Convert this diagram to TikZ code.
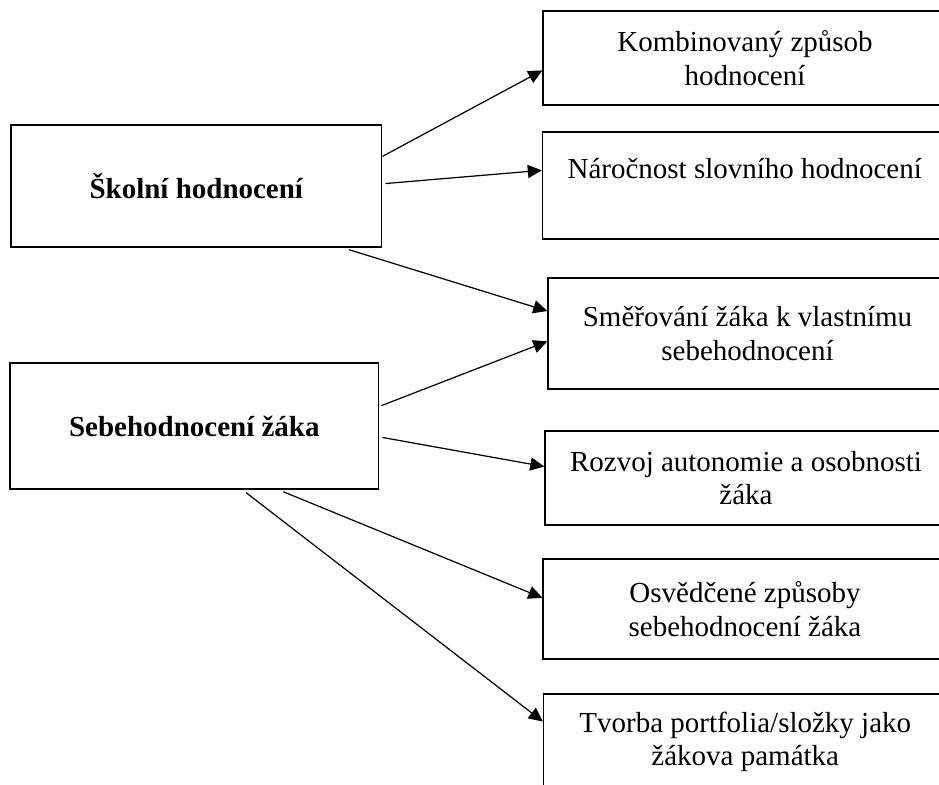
\documentclass[tikz,border=0pt]{standalone}
\usepackage{fontspec}
\setmainfont{Liberation Serif}
\usetikzlibrary{arrows.meta,calc}

\tikzset{
  mainbox/.style={draw, line width=0.8pt, inner sep=0pt, font=\bfseries\fontsize{16.5}{18.7}\selectfont},
  itembox/.style={draw, line width=0.8pt, inner sep=0pt, align=center, font=\fontsize{16.5}{19}\selectfont},
  link/.style={-{Triangle[length=8pt,width=7.5pt]}, line width=0.7pt}
}

\begin{document}
\begin{tikzpicture}[x=0.02cm, y=-0.02cm]
\useasboundingbox (0,0) rectangle (939,784);
\clip (0,0) rectangle (939,784);
\node [mainbox, minimum width=7.42cm, minimum height=2.44cm] (school) at (196.3,186) {Školní hodnocení};
\node [mainbox, minimum width=7.38cm, minimum height=2.52cm] (self) at (194.3,426) {Sebehodnocení žáka};
\node [itembox, minimum width=8.08cm, minimum height=1.88cm] (comb) at (745,58) {Kombinovaný způsob\\hodnocení};
\node [itembox, minimum width=8.09cm, minimum height=2.14cm] (hard) at (744.75,185.5) {Náročnost slovního hodnocení\\\mbox{}};
\node [itembox, minimum width=7.98cm, minimum height=2.22cm] (lead) at (747.5,333.5) {Směřování žáka k vlastnímu\\sebehodnocení};
\node [itembox, minimum width=8.04cm, minimum height=1.88cm] (auto) at (746,478) {Rozvoj autonomie a osobnosti\\žáka};
\node [itembox, minimum width=8.08cm, minimum height=2.00cm] (ways) at (745,609) {Osvědčené způsoby\\sebehodnocení žáka};
\node [itembox, minimum width=8.07cm, minimum height=1.92cm] (folio) at (745.25,742) {Tvorba portfolia/složky jako\\žákova památka};
\draw [link] ($(school.north east)!0.26!(school.south east)$) -- ($(comb.north west)!0.63!(comb.south west)$);
\draw [link] ($(school.north east)!0.48!(school.south east)+(3,0)$) -- ($(hard.north west)!0.36!(hard.south west)$);
\draw [link] ($(school.south west)!0.91!(school.south east)+(0,2)$) -- ($(lead.north west)!0.30!(lead.south west)$);
\draw [link] ($(self.north east)!0.34!(self.south east)+(2,0)$) -- ($(lead.north west)!0.57!(lead.south west)$);
\draw [link] ($(self.north east)!0.59!(self.south east)+(3,0)$) -- ($(auto.north west)!0.38!(auto.south west)$);
\draw [link] ($(self.south west)!0.74!(self.south east)+(0,2)$) -- ($(ways.north west)!0.39!(ways.south west)$);
\draw [link] ($(self.south west)!0.64!(self.south east)+(0,3)$) -- ($(folio.north west)!0.29!(folio.south west)$);
\end{tikzpicture}
\end{document}
